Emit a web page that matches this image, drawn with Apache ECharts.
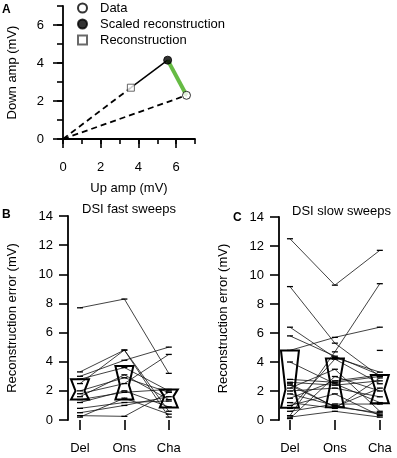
<!DOCTYPE html>
<html>
<head>
<meta charset="utf-8">
<script src="https://cdn.jsdelivr.net/npm/echarts@6/dist/echarts.min.js"></script>
<style>
  html, body { margin: 0; padding: 0; background: #fff; }
  #main { width: 397px; height: 458px; }
</style>
</head>
<body>
<div id="main"></div>
<script>
// panel A: points in (up amp, down amp), mV
var originPt = [0, 0];
var dataPt = [6.55, 2.3];
var scaledPt = [5.55, 4.15];
var reconPt = [3.6, 2.7];
var ampTicks = [0, 2, 4, 6];

// panels B and C: one row per cell, values at Del / Ons / Cha
var categories = ["Del", "Ons", "Cha"];

var fastCells = [
  [7.7, 8.3, 3.2],
  [3.3, 4.8, 0.2],
  [2.5, 4.8, 0.6],
  [3.0, 4.1, 5.0],
  [1.8, 2.5, 4.5],
  [2.8, 3.6, 2.0],
  [2.0, 2.9, 1.9],
  [1.6, 3.1, 1.4],
  [1.4, 1.9, 2.1],
  [0.8, 1.2, 1.3],
  [0.3, 0.25, 1.9],
  [0.2, 1.5, 0.4],
  [1.2, 2.0, 0.9],
  [0.5, 1.0, 1.6]
];
// q1, median, q3
var fastBoxes = [
  [1.4, 2.0, 2.8],
  [1.4, 2.4, 3.7],
  [0.85, 1.6, 2.1]
];

var slowCells = [
  [12.5, 9.3, 11.7],
  [9.2, 5.3, 3.0],
  [0.3, 4.7, 9.4],
  [6.4, 4.3, 3.3],
  [5.8, 4.4, 3.1],
  [4.8, 5.7, 6.4],
  [4.0, 2.5, 1.2],
  [2.8, 2.6, 3.0],
  [2.6, 2.4, 2.7],
  [2.4, 0.9, 2.2],
  [2.2, 3.5, 0.6],
  [2.0, 2.2, 1.6],
  [1.8, 1.0, 0.4],
  [1.5, 2.7, 3.1],
  [1.2, 0.8, 2.9],
  [1.0, 1.8, 0.3],
  [0.8, 4.2, 2.5],
  [0.6, 1.1, 1.1],
  [0.2, 0.6, 0.2],
  [0.1, 3.0, 2.0],
  [2.5, 0.9, 0.5],
  [null, null, 4.8]
];
var slowBoxes = [
  [0.85, 2.1, 4.8],
  [0.88, 2.5, 4.25],
  [1.15, 2.1, 3.1]
];

var FONT = "Liberation Sans, Arial, Helvetica, sans-serif";
var chart = echarts.init(document.getElementById("main"));

function catTick(v) {
  return categories[Math.round(v) - 1] || "";
}

function cellSeries(cells, axisIdx) {
  return cells.map(function (row) {
    return {
      type: "line",
      xAxisIndex: axisIdx,
      yAxisIndex: axisIdx,
      data: row.map(function (v, i) { return [i + 1, v]; }),
      symbol: "rect",
      symbolSize: [6, 1.3],
      showSymbol: true,
      itemStyle: { color: "#000" },
      lineStyle: { color: "#111", width: 0.8 },
      silent: true,
      z: 2
    };
  });
}

function notchBox(params, api) {
  var x = api.value(0);
  var lo = api.coord([x, api.value(1)]);
  var md = api.coord([x, api.value(2)]);
  var hi = api.coord([x, api.value(3)]);
  var w = 9, n = 4.5;
  return {
    type: "polygon",
    shape: {
      points: [
        [hi[0] - w, hi[1]], [hi[0] + w, hi[1]], [md[0] + n, md[1]],
        [lo[0] + w, lo[1]], [lo[0] - w, lo[1]], [md[0] - n, md[1]]
      ]
    },
    style: { fill: "none", stroke: "#000", lineWidth: 2 }
  };
}

function boxSeries(boxes, axisIdx) {
  return {
    type: "custom",
    xAxisIndex: axisIdx,
    yAxisIndex: axisIdx,
    data: boxes.map(function (b, i) { return [i + 1, b[0], b[1], b[2]]; }),
    encode: { x: 0, y: [1, 2, 3] },
    renderItem: notchBox,
    silent: true,
    z: 5
  };
}

function errX(grid, min, max) {
  return {
    type: "value", gridIndex: grid, min: min, max: max, offset: 5, position: "bottom",
    axisLine: { show: false },
    splitLine: { show: false },
    axisTick: { customValues: [1, 2, 3], length: 10, lineStyle: { color: "#000", width: 1.6 } },
    axisLabel: { customValues: [1, 2, 3], formatter: catTick, margin: 17, fontSize: 13, color: "#000", fontFamily: FONT }
  };
}

function errY(grid) {
  return {
    type: "value", gridIndex: grid, min: 0, max: 14, interval: 2,
    name: "Reconstruction error (mV)", nameLocation: "middle", nameGap: 49,
    nameTextStyle: { fontSize: 13, color: "#000", fontFamily: FONT },
    axisLine: { lineStyle: { color: "#000", width: 1.8 } },
    splitLine: { show: false },
    axisTick: { length: 9, lineStyle: { color: "#000", width: 1.6 } },
    axisLabel: { margin: 15, fontSize: 13, color: "#000", fontFamily: FONT }
  };
}

var option = {
  animation: false,
  textStyle: { fontFamily: FONT },
  title: [
    { text: "A", left: 2, top: 4, padding: 0, textStyle: { fontSize: 12, fontWeight: "bold", color: "#000", fontFamily: FONT } },
    { text: "B", left: 2, top: 209, padding: 0, textStyle: { fontSize: 12, fontWeight: "bold", color: "#000", fontFamily: FONT } },
    { text: "C", left: 233, top: 212, padding: 0, textStyle: { fontSize: 12, fontWeight: "bold", color: "#000", fontFamily: FONT } },
    { text: "DSI fast sweeps", left: 82, top: 203, padding: 0, textStyle: { fontSize: 13, fontWeight: "normal", color: "#000", fontFamily: FONT } },
    { text: "DSI slow sweeps", left: 292, top: 205, padding: 0, textStyle: { fontSize: 13, fontWeight: "normal", color: "#000", fontFamily: FONT } }
  ],
  legend: {
    orient: "vertical",
    left: 72, top: 0, padding: [1, 5, 0, 5],
    itemWidth: 9, itemHeight: 9, itemGap: 2,
    textStyle: { fontSize: 13, color: "#000", fontFamily: FONT, padding: [0, 0, 0, 8], lineHeight: 14 },
    data: ["Data", "Scaled reconstruction", "Reconstruction"]
  },
  grid: [
    { left: 63, top: 6, width: 132, height: 133 },
    { left: 68, top: 216, width: 123, height: 204 },
    { left: 279, top: 217, width: 117, height: 203 }
  ],
  xAxis: [
    {
      type: "value", gridIndex: 0, min: 0, max: 7, interval: 1, offset: 4, position: "bottom",
      axisLine: { lineStyle: { color: "#000", width: 1.8 } },
      splitLine: { show: false },
      axisTick: { length: 5, lineStyle: { color: "#000", width: 1.6 } },
      axisLabel: { show: false }
    },
    {
      type: "value", gridIndex: 0, min: 0, max: 7, offset: 4, position: "bottom",
      name: "Up amp (mV)", nameLocation: "middle", nameGap: 39,
      nameTextStyle: { fontSize: 13, color: "#000", fontFamily: FONT },
      axisLine: { show: false },
      splitLine: { show: false },
      axisTick: { customValues: ampTicks, length: 9, lineStyle: { color: "#000", width: 1.6 } },
      axisLabel: { customValues: ampTicks, margin: 18, fontSize: 13, color: "#000", fontFamily: FONT }
    },
    errX(1, 0.73, 3.5),
    errX(2, 0.756, 3.36)
  ],
  yAxis: [
    {
      type: "value", gridIndex: 0, min: 0, max: 7, interval: 1, offset: 2, position: "left",
      axisLine: { lineStyle: { color: "#000", width: 1.8 } },
      splitLine: { show: false },
      axisTick: { length: 6, lineStyle: { color: "#000", width: 1.6 } },
      axisLabel: { show: false }
    },
    {
      type: "value", gridIndex: 0, min: 0, max: 7, offset: 2, position: "left",
      name: "Down amp (mV)", nameLocation: "middle", nameGap: 42,
      nameTextStyle: { fontSize: 13, color: "#000", fontFamily: FONT },
      axisLine: { show: false },
      splitLine: { show: false },
      axisTick: { customValues: ampTicks, length: 10, lineStyle: { color: "#000", width: 1.6 } },
      axisLabel: { customValues: ampTicks, margin: 17, fontSize: 13, color: "#000", fontFamily: FONT }
    },
    errY(1),
    errY(2)
  ],
  series: [
    {
      type: "line", xAxisIndex: 0, yAxisIndex: 0, showSymbol: false, silent: true,
      data: [originPt, dataPt],
      lineStyle: { color: "#000", width: 1.8, type: [6, 4] }
    },
    {
      type: "line", xAxisIndex: 0, yAxisIndex: 0, showSymbol: false, silent: true,
      data: [originPt, reconPt],
      lineStyle: { color: "#000", width: 1.8, type: [6, 4] }
    },
    {
      type: "line", xAxisIndex: 0, yAxisIndex: 0, showSymbol: false, silent: true,
      data: [reconPt, scaledPt],
      lineStyle: { color: "#000", width: 1.5 }
    },
    {
      type: "line", xAxisIndex: 0, yAxisIndex: 0, showSymbol: false, silent: true,
      data: [scaledPt, dataPt],
      lineStyle: { color: "#66bb44", width: 4 }
    },
    {
      name: "Data", type: "scatter", xAxisIndex: 0, yAxisIndex: 0, z: 6,
      symbol: "circle", symbolSize: 8, data: [dataPt],
      itemStyle: { color: "#fff", borderColor: "#000", borderWidth: 1 }
    },
    {
      name: "Scaled reconstruction", type: "scatter", xAxisIndex: 0, yAxisIndex: 0, z: 6,
      symbol: "circle", symbolSize: 8, data: [scaledPt],
      itemStyle: { color: "#000", borderColor: "#000", borderWidth: 1 }
    },
    {
      name: "Reconstruction", type: "scatter", xAxisIndex: 0, yAxisIndex: 0, z: 6,
      symbol: "rect", symbolSize: 7, data: [reconPt],
      itemStyle: { color: "#fff", borderColor: "#444", borderWidth: 1 }
    }
  ]
    .concat(cellSeries(fastCells, 2))
    .concat([boxSeries(fastBoxes, 2)])
    .concat(cellSeries(slowCells, 3))
    .concat([boxSeries(slowBoxes, 3)])
};

option && chart.setOption(option);
</script>
</body>
</html>
